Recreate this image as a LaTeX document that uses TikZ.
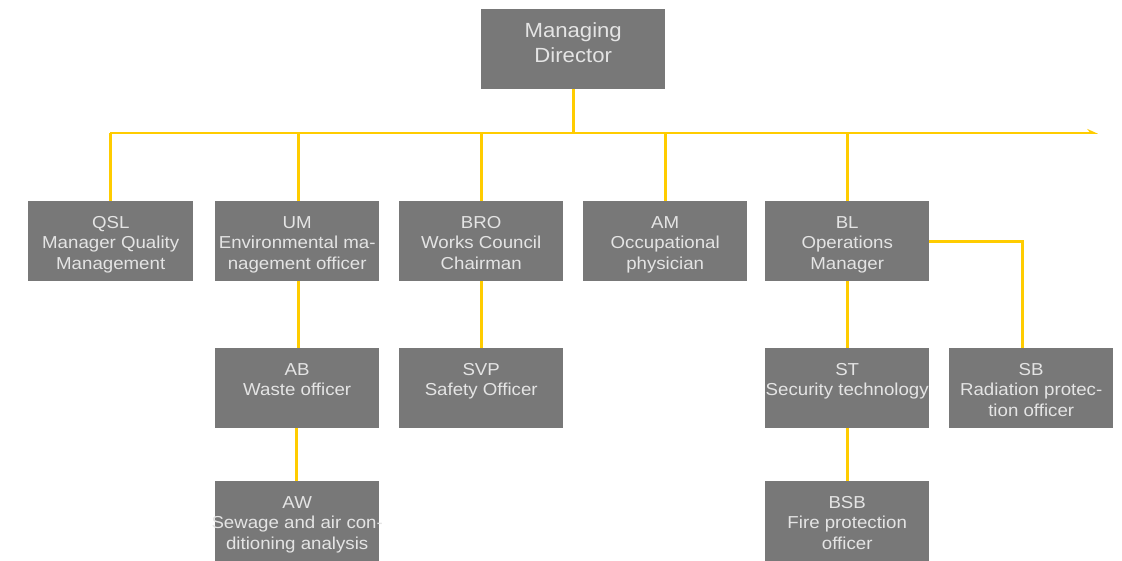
\documentclass[tikz,border=0pt]{standalone}
\usepackage{fontspec}
\setmainfont[FakeStretch=1.08]{Liberation Sans}
\usetikzlibrary{arrows.meta}
\definecolor{boxgray}{RGB}{120,120,120}
\definecolor{boxtext}{RGB}{228,228,228}
\definecolor{linkyellow}{RGB}{255,204,0}
\tikzset{
  box/.style={fill=boxgray, draw=none, minimum width=164pt, minimum height=80pt,
    inner sep=0pt, anchor=north west},
  txt/.style={text=boxtext, align=center, inner sep=0pt, anchor=north,
    font=\fontsize{17.3}{20.5}\selectfont,
    execute at begin node={\rule{0pt}{14pt}}},
  bigtxt/.style={txt, font=\fontsize{20.5}{25}\selectfont,
    execute at begin node={\rule{0pt}{18pt}}},
  link/.style={draw=linkyellow, line width=2.8pt},
}
\begin{document}
\begin{tikzpicture}[x=1pt, y=-1pt]
\useasboundingbox (0,0) rectangle (1122,561);

% top level
\node[box, minimum width=184pt] (md) at (481,9) {};
\node[bigtxt] (md-t) at ([yshift=-13pt]md.north) {Managing\\Director};

% first row
\node[box, minimum width=165pt] (qsl) at (28,201) {};
\node[box] (um)  at (215,201) {};
\node[box] (bro) at (399,201) {};
\node[box] (am)  at (583,201) {};
\node[box] (bl)  at (765,201) {};

% second row
\node[box] (ab)  at (215,348) {};
\node[box] (svp) at (399,348) {};
\node[box] (st)  at (765,348) {};
\node[box] (sb)  at (949,348) {};

% third row
\node[box] (aw)  at (215,481) {};
\node[box] (bsb) at (765,481) {};

% box labels
\node[txt] (qsl-t) at ([yshift=-15pt]qsl.north) {QSL\\Manager Quality\\Management};
\node[txt] (um-t)  at ([yshift=-15pt]um.north)  {UM\\Environmental ma-\\nagement officer};
\node[txt] (bro-t) at ([yshift=-15pt]bro.north) {BRO\\Works Council\\Chairman};
\node[txt] (am-t)  at ([yshift=-15pt]am.north)  {AM\\Occupational\\physician};
\node[txt] (bl-t)  at ([yshift=-15pt]bl.north)  {BL\\Operations\\Manager};
\node[txt] (ab-t)  at ([yshift=-15pt]ab.north)  {AB\\Waste officer};
\node[txt] (svp-t) at ([yshift=-15pt]svp.north) {SVP\\Safety Officer};
\node[txt] (st-t)  at ([yshift=-15pt]st.north)  {ST\\Security technology};
\node[txt] (sb-t)  at ([yshift=-15pt]sb.north)  {SB\\Radiation protec-\\tion officer};
\node[txt] (aw-t)  at ([yshift=-15pt]aw.north)  {AW\\Sewage and air con-\\ditioning analysis};
\node[txt] (bsb-t) at ([yshift=-15pt]bsb.north) {BSB\\Fire protection\\officer};

% distribution bus
\coordinate (busL) at (110,133);
\coordinate (busR) at (1098,133);
\draw[link, -{Stealth[left, length=9pt, width=8pt]}] (busL) -- (busR);
\draw[link] (md.south) -- (md.south |- busL);
\draw[link] (qsl.north) -- (qsl.north |- busL);
\draw[link] ([xshift=1pt]um.north) -- ([xshift=1pt]um.north |- busL);
\draw[link] (bro.north) -- (bro.north |- busL);
\draw[link] (am.north) -- (am.north |- busL);
\draw[link] (bl.north) -- (bl.north |- busL);

% reporting lines
\draw[link] ([xshift=1pt]um.south) -- ([xshift=1pt]ab.north);
\draw[link] ([xshift=-1pt]ab.south) -- ([xshift=-1pt]aw.north);
\draw[link] (bro.south) -- (svp.north);
\draw[link] (bl.south) -- (st.north);
\draw[link] (st.south) -- (bsb.north);
\draw[link] (bl.east) -| ([xshift=-9pt]sb.north);
\end{tikzpicture}
\end{document}
